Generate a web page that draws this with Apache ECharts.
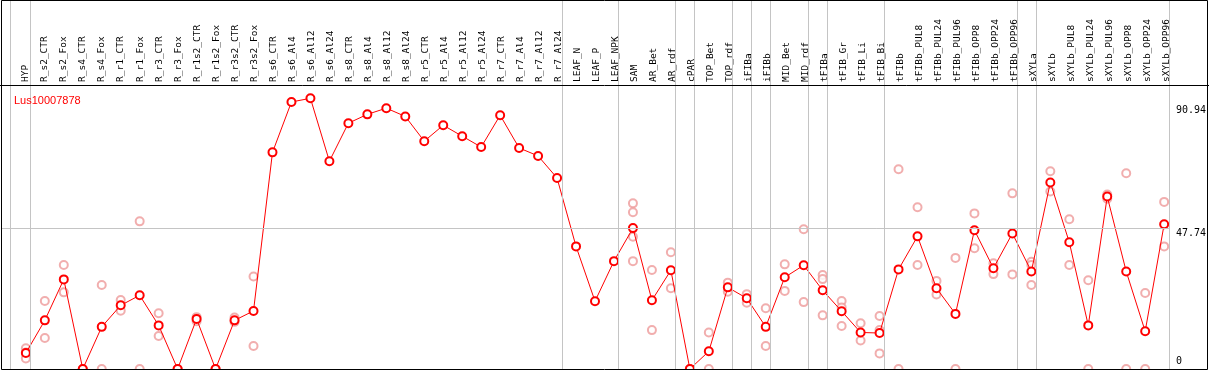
<!DOCTYPE html>
<html>
<head>
<meta charset="utf-8">
<script src="https://cdn.jsdelivr.net/npm/echarts@6/dist/echarts.min.js"></script>
<style>html,body{margin:0;padding:0;background:#fff}#c{width:1209px;height:370px}</style>
</head>
<body>
<div id="c"></div>
<script>
const categories = ["HYP","R_s2_CTR","R_s2_Fox","R_s4_CTR","R_s4_Fox","R_r1_CTR","R_r1_Fox","R_r3_CTR","R_r3_Fox","R_r1s2_CTR","R_r1s2_Fox","R_r3s2_CTR","R_r3s2_Fox","R_s6_CTR","R_s6_Al4","R_s6_Al12","R_s6_Al24","R_s8_CTR","R_s8_Al4","R_s8_Al12","R_s8_Al24","R_r5_CTR","R_r5_Al4","R_r5_Al12","R_r5_Al24","R_r7_CTR","R_r7_Al4","R_r7_Al12","R_r7_Al24","LEAF_N","LEAF_P","LEAF_NPK","SAM","AR_Bet","AR_rdf","cPAR","TOP_Bet","TOP_rdf","iFIBa","iFIBb","MID_Bet","MID_rdf","tFIBa","tFIB_Gr","tFIB_Li","tFIB_Bi","tFIBb","tFIBb_PUL8","tFIBb_PUL24","tFIBb_PUL96","tFIBb_OPP8","tFIBb_OPP24","tFIBb_OPP96","sXYLa","sXYLb","sXYLb_PUL8","sXYLb_PUL24","sXYLb_PUL96","sXYLb_OPP8","sXYLb_OPP24","sXYLb_OPP96"];
const meanValues = [5.4,16.5,30.4,0,14.3,21.6,25.0,14.8,0,17.0,0,16.5,19.7,73.5,90.6,91.85,70.5,83.4,86.4,88.5,85.7,77.3,82.7,79.0,75.3,86.1,75.0,72.3,64.8,41.6,23.0,36.6,47.8,23.3,33.5,0,6.0,27.7,24.0,14.3,31.1,35.2,26.7,19.6,12.4,12.2,33.8,45.0,27.4,18.7,47.1,34.2,46.0,33.1,63.3,43.0,14.8,58.5,33.1,12.8,49.1];
const rep1 = [7.0,23.1,35.3,0,28.5,23.4,50.1,18.9,0,17.6,0,17.5,31.4,null,null,null,null,null,null,null,null,null,null,null,null,null,null,null,null,null,null,null,56.2,33.6,39.6,0,12.4,29.3,25.4,20.6,35.5,47.4,31.9,23.1,15.5,18.0,67.8,54.9,29.9,37.7,52.8,35.9,59.6,36.4,67.1,50.8,30.1,59.2,66.4,25.8,56.7];
const rep2 = [3.6,10.5,26.0,0,0,19.8,0,11.2,0,16.2,0,16.0,7.8,null,null,null,null,null,null,null,null,null,null,null,null,null,null,null,null,null,null,null,53.2,13.2,27.4,0,0,26.2,22.5,7.8,26.5,22.7,30.5,20.9,9.7,13.2,0,35.3,25.3,0,41.0,32.2,32.1,35.3,60.2,35.3,0,57.8,0,0,41.6];
const rep3 = [5.6,null,null,null,null,null,null,null,null,null,null,null,null,null,null,null,null,null,null,null,null,null,null,null,null,null,null,null,null,null,null,null,44.9,null,null,null,null,null,null,null,null,null,18.2,14.6,null,5.3,null,null,null,null,null,null,null,28.5,null,null,null,null,null,null,null];
const rep4 = [null,null,null,null,null,null,null,null,null,null,null,null,null,null,null,null,null,null,null,null,null,null,null,null,null,null,null,null,null,null,null,null,36.6,null,null,null,null,null,null,null,null,null,null,null,null,null,null,null,null,null,null,null,null,null,null,null,null,null,null,null,null];
const groupBoundaries = [-0.8,0.25,28.25,31.25,34.25,35.25,37.25,38.25,39.25,41.25,42.25,45.25,52.25,53.25,60.25];
const yTopLabel = 90.94;
const yMidLabel = 47.74;
const yBottomLabel = 0;
const geneName = "Lus10007878";

const meanData = meanValues.map((v,i)=>[i,v]);
const repData = [];
[rep1,rep2,rep3,rep4].forEach(arr=>arr.forEach((v,i)=>{ if(v!==null) repData.push([i,v]); }));

function rightAxis(value, vAlign, pad){
  return {type:'value',gridIndex:0,min:0,max:125.2,position:'right',
    axisLine:{show:false},axisTick:{show:false},splitLine:{show:false},
    axisLabel:{show:true,customValues:[value],formatter:()=>String(value),margin:7,
      verticalAlign:vAlign,padding:pad,color:'#000',fontFamily:'DejaVu Sans Mono',fontSize:10,showMinLabel:true,showMaxLabel:true}};
}

const chart = echarts.init(document.getElementById('c'), null, {renderer:'canvas'});
chart.setOption({
  animation:false,
  backgroundColor:'#fff',
  title:{text:geneName,left:9,top:90,textStyle:{color:'#ff0000',fontSize:11,fontWeight:'normal',fontFamily:'Liberation Sans'}},
  grid:[
    {left:1,right:38,top:0,bottom:1},
    {left:16.5,right:33.2,top:85,bottom:284}
  ],
  xAxis:[
    {type:'value',gridIndex:0,min:-1.31,max:60.25,show:false},
    {type:'category',gridIndex:1,position:'top',data:categories,boundaryGap:true,
     axisLine:{show:false},axisTick:{show:false},splitLine:{show:false},
     axisLabel:{interval:0,rotate:90,margin:3,fontFamily:'DejaVu Sans Mono',fontSize:9.5,color:'#000'}}
  ],
  yAxis:[
    {type:'value',gridIndex:0,min:0,max:125.2,show:false},
    {type:'value',gridIndex:1,show:false},
    rightAxis(yTopLabel,'top',[4,0,0,0]),
    rightAxis(yMidLabel,'top',[0,0,0,0]),
    rightAxis(yBottomLabel,'bottom',[0,0,3,0])
  ],
  series:[
    {type:'scatter',xAxisIndex:0,yAxisIndex:0,data:repData,symbol:'emptyCircle',symbolSize:8,
     itemStyle:{color:'#ee9a9a',borderColor:'#ee9a9a',borderWidth:1},z:2,
     markLine:{silent:true,symbol:'none',animation:false,
       lineStyle:{color:'#c4c4c4',width:1,type:'solid'},label:{show:false},
       data:groupBoundaries.map(b=>({xAxis:b}))}},
    {type:'line',xAxisIndex:0,yAxisIndex:0,data:meanData,symbol:'emptyCircle',symbolSize:8,
     lineStyle:{color:'#ff0000',width:1},itemStyle:{color:'#ff0000',borderColor:'#ff0000',borderWidth:1.5},z:3,
     markLine:{silent:true,symbol:'none',animation:false,label:{show:false},
       lineStyle:{color:'#c4c4c4',width:1,type:'solid'},
       data:[{yAxis:yMidLabel}]}}
  ],
  graphic:[
    {type:'rect',z:100,silent:true,shape:{x:1.5,y:0.5,width:1206,height:369},style:{fill:null,stroke:'#000',lineWidth:1}},
    {type:'line',z:100,silent:true,shape:{x1:0,y1:85.5,x2:1209,y2:85.5},style:{stroke:'#000',lineWidth:1}}
  ]
});
</script>
</body>
</html>
